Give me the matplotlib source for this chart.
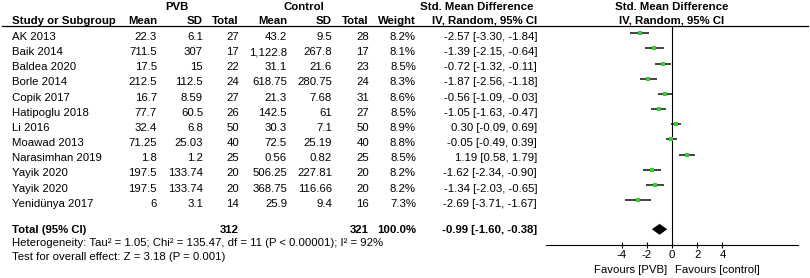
import matplotlib
matplotlib.use("Agg")
import matplotlib.pyplot as plt

plt.rcParams['font.family'] = ['Liberation Sans', 'DejaVu Sans']
plt.rcParams['axes.unicode_minus'] = False

studies = ["AK 2013", "Baik 2014", "Baldea 2020", "Borle 2014", "Copik 2017",
           "Hatipoglu 2018", "Li 2016", "Moawad 2013", "Narasimhan 2019",
           "Yayik 2020", "Yayik 2020", "Yenidünya 2017"]
pvb_mean = [22.3, 711.5, 17.5, 212.5, 16.7, 77.7, 32.4, 71.25, 1.8, 197.5, 197.5, 6]
pvb_sd = [6.1, 307, 15, 112.5, 8.59, 60.5, 6.8, 25.03, 1.2, 133.74, 133.74, 3.1]
pvb_n = [27, 17, 22, 24, 27, 26, 50, 40, 25, 20, 20, 14]
ctl_mean = [43.2, 1122.8, 31.1, 618.75, 21.3, 142.5, 30.3, 72.5, 0.56, 506.25, 368.75, 25.9]
ctl_sd = [9.5, 267.8, 21.6, 280.75, 7.68, 61, 7.1, 25.19, 0.82, 227.81, 116.66, 9.4]
ctl_n = [28, 17, 23, 24, 31, 27, 50, 40, 25, 20, 20, 16]
weight = [8.2, 8.1, 8.5, 8.3, 8.6, 8.5, 8.9, 8.8, 8.5, 8.2, 8.2, 7.3]
smd = [-2.57, -1.39, -0.72, -1.87, -0.56, -1.05, 0.30, -0.05, 1.19, -1.62, -1.34, -2.69]
ci_lo = [-3.30, -2.15, -1.32, -2.56, -1.09, -1.63, -0.09, -0.49, 0.58, -2.34, -2.03, -3.71]
ci_hi = [-1.84, -0.64, -0.11, -1.18, -0.03, -0.47, 0.69, 0.39, 1.79, -0.90, -0.65, -1.67]

total_pvb = 312
total_ctl = 321
total_weight = 100.0
pooled = -0.99
pooled_lo = -1.60
pooled_hi = -0.38
het_text = "Heterogeneity: Tau\u00b2 = 1.05; Chi\u00b2 = 135.47, df = 11 (P < 0.00001); I\u00b2 = 92%"
test_text = "Test for overall effect: Z = 3.18 (P = 0.001)"
xticks = [-4, -2, 0, 2, 4]
xlabel_left = "Favours [PVB]"
xlabel_right = "Favours [control]"

W, H = 810, 278
fig = plt.figure(figsize=(W / 100, H / 100), dpi=100)
ta = fig.add_axes([0, 0, 1, 1])
ta.set_xlim(0, W)
ta.set_ylim(H, 0)
ta.axis('off')

FS = 8.2
GREEN = '#33cc33'


def fmt(v):
    return f"{v:,}"


def row_base(i):
    return 40 + 15.15 * i


# header
ta.text(177, 10, "PVB", ha='center', fontsize=FS, fontweight='bold')
ta.text(304, 10, "Control", ha='center', fontsize=FS, fontweight='bold')
ta.text(477, 10, "Std. Mean Difference", ha='center', fontsize=FS, fontweight='bold')
ta.text(672, 10, "Std. Mean Difference", ha='center', fontsize=FS, fontweight='bold')
hy = 23.5
ta.text(12, hy, "Study or Subgroup", ha='left', fontsize=FS, fontweight='bold')
cols = [(157, "Mean"), (203, "SD"), (239, "Total"), (287, "Mean"), (332, "SD"),
        (369, "Total"), (416, "Weight"), (537, "IV, Random, 95% CI")]
for x, t in cols:
    ta.text(x, hy, t, ha='right', fontsize=FS, fontweight='bold')
ta.text(672, hy, "IV, Random, 95% CI", ha='center', fontsize=FS, fontweight='bold')
ta.plot([2, 808], [25.5, 25.5], color='black', lw=0.9)

for i, s in enumerate(studies):
    y = row_base(i)
    ta.text(12, y, s, ha='left', fontsize=FS)
    vals = [fmt(pvb_mean[i]), fmt(pvb_sd[i]), str(pvb_n[i]), fmt(ctl_mean[i]),
            fmt(ctl_sd[i]), str(ctl_n[i]), f"{weight[i]:.1f}%",
            f"{smd[i]:.2f} [{ci_lo[i]:.2f}, {ci_hi[i]:.2f}]"]
    for (x, _), v in zip(cols, vals):
        ta.text(x, y, v, ha='right', fontsize=FS)

ty = 233
ta.text(12, ty, "Total (95% CI)", ha='left', fontsize=FS, fontweight='bold')
ta.text(239, ty, str(total_pvb), ha='right', fontsize=FS, fontweight='bold')
ta.text(369, ty, str(total_ctl), ha='right', fontsize=FS, fontweight='bold')
ta.text(416, ty, f"{total_weight:.1f}%", ha='right', fontsize=FS, fontweight='bold')
ta.text(537, ty, f"{pooled:.2f} [{pooled_lo:.2f}, {pooled_hi:.2f}]", ha='right',
        fontsize=FS, fontweight='bold')
ta.text(12, 246.5, het_text, ha='left', fontsize=FS)
ta.text(12, 259.5, test_text, ha='left', fontsize=FS)

ta.text(667, 273, xlabel_left, ha='right', fontsize=FS)
ta.text(675, 273, xlabel_right, ha='left', fontsize=FS)

# forest axes
ax_left, ax_right, ax_top, ax_bot = 546, 798, 25.5, 245
fa = fig.add_axes([ax_left / W, (H - ax_bot) / H, (ax_right - ax_left) / W, (ax_bot - ax_top) / H])
fa.patch.set_alpha(0)
fa.set_xlim(-10, 10)
y_top = (ax_top - 33.3) / 15.15
y_bot = (ax_bot - 33.3) / 15.15
fa.set_ylim(y_bot, y_top)
for sp in ['top', 'left', 'right']:
    fa.spines[sp].set_visible(False)
fa.spines['bottom'].set_linewidth(0.8)
fa.set_yticks([])
fa.set_xticks(xticks)
fa.set_xticklabels([str(t) for t in xticks])
fa.tick_params(axis='x', direction='inout', length=4.8, width=0.8, pad=1.5, labelsize=FS)
fa.axvline(0, color='black', lw=0.8)

for i in range(len(studies)):
    fa.plot([ci_lo[i], ci_hi[i]], [i, i], color='#222222', lw=1.2, solid_capstyle='butt')
    fa.plot(smd[i], i, marker='s', color=GREEN, markersize=weight[i] * 0.5 * 0.72,
            markeredgewidth=0)

total_y = (229.3 - 33.3) / 15.15
dh = 0.36
fa.fill([pooled_lo, pooled, pooled_hi, pooled], [total_y, total_y - dh, total_y, total_y + dh],
        color='black', lw=0)

fig.savefig("out.png", dpi=100)
